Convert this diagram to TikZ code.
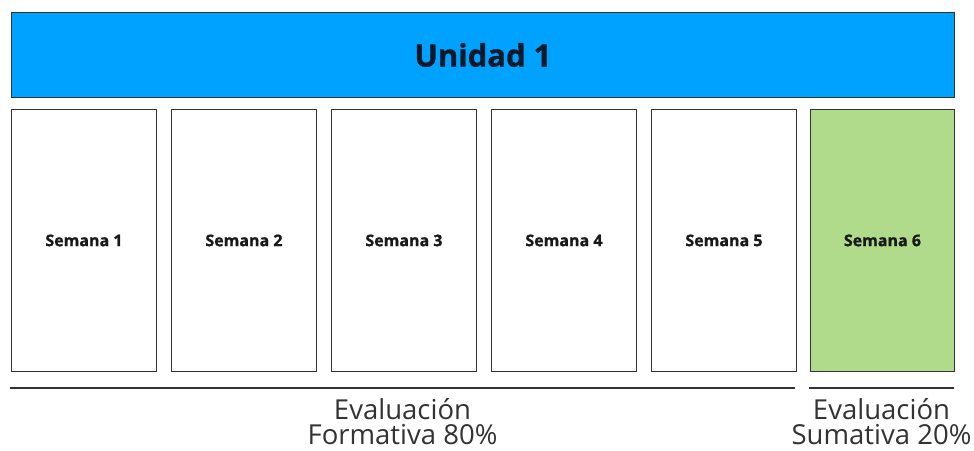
\documentclass[tikz,border=0pt]{standalone}
\usepackage{fontspec}
\setmainfont{Open Sans}
\newfontfamily\headfont{Open Sans}[BoldFeatures={FakeBold=1}]
\definecolor{barblue}{HTML}{00A2FF}
\definecolor{wkgreen}{HTML}{B0DB8A}
\definecolor{edge}{HTML}{333333}
\definecolor{txt}{HTML}{333333}
\definecolor{navy}{HTML}{0B1A2A}
\begin{document}
\begin{tikzpicture}[x=1pt,y=-1pt,
  week/.style={draw=edge,line width=1.9pt,fill=white,minimum width=145pt,minimum height=262pt,inner sep=0pt,anchor=north west,
    font=\headfont\bfseries\fontsize{16}{18}\selectfont,text=black!90},
  bar/.style={draw=edge,line width=1.9pt,fill=barblue,minimum width=943pt,minimum height=85pt,inner sep=0pt,anchor=north west,
    font=\headfont\bfseries\fontsize{31}{34}\selectfont,text=navy},
  rule/.style={draw=edge,line width=1.9pt},
  evtext/.style={font=\fontsize{27.5}{25}\selectfont,text=txt,align=center,anchor=north,inner sep=0pt}
]
\useasboundingbox (0,0) rectangle (974,450);
\fill[white] (0,0) rectangle (974,450);
\node[bar] (unidad) at (10.5,11.5) {Unidad 1};
\node[week] (s1) at (10.5,108.5) {Semana 1};
\node[week] (s2) at (170.5,108.5) {Semana 2};
\node[week] (s3) at (330.5,108.5) {Semana 3};
\node[week] (s4) at (490.5,108.5) {Semana 4};
\node[week] (s5) at (650.5,108.5) {Semana 5};
\node[week,fill=wkgreen,minimum width=144pt] (s6) at (809.5,108.5) {Semana 6};
\coordinate (fa) at (10,388);
\coordinate (fb) at (795,388);
\coordinate (sa) at (809,388);
\coordinate (sb) at (954,388);
\draw[rule] (fa) -- (fb);
\draw[rule] (sa) -- (sb);
\node[evtext] (form) at (402.5,398) {Evaluación\\Formativa 80\%};
\node[evtext] (suma) at (881.5,398) {Evaluación\\Sumativa 20\%};
\end{tikzpicture}
\end{document}
